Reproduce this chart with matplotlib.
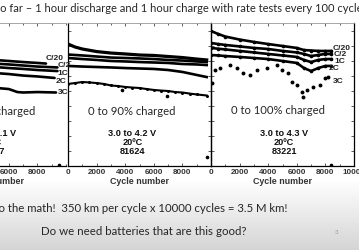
import numpy as np
import matplotlib
matplotlib.use('Agg')
import matplotlib.pyplot as plt
from matplotlib.ticker import MultipleLocator

# capacity in arbitrary units (one tick = 1 unit)
rates = ['C/20', 'C/2', '1C', '2C', '3C']

# panel 1 (cut off at the left of the slide), 3.0 to 4.1 V
p1_cyc = {
    'C/20': [5000, 6000, 7000, 8000, 8600],
    'C/2': [5000, 6000, 7000, 8000, 9400],
    '1C': [5000, 6000, 7000, 8000, 9400],
    '2C': [5000, 6000, 7000, 8000, 9200],
    '3C': [5000, 5400, 6000, 6600, 7000, 8000, 9300],
}
p1_cap = {
    'C/20': [7.07, 7.00, 6.93, 6.87, 6.83],
    'C/2': [6.83, 6.77, 6.70, 6.63, 6.57],
    '1C': [6.60, 6.53, 6.47, 6.40, 6.33],
    '2C': [6.20, 6.13, 6.03, 5.97, 5.87],
    '3C': [5.22, 5.18, 5.13, 4.93, 4.90, 4.93, 4.90],
}
p1_out = ([9510], [0.07])

# panel 2, 3.0 to 4.2 V
p2_cyc_std = [0, 1000, 2000, 3000, 4000, 5000, 6000, 7000, 8000, 9000, 9700]
p2_cap = {
    'C/20': [8.13, 7.80, 7.63, 7.53, 7.47, 7.40, 7.37, 7.30, 7.23, 7.13, 7.07],
    'C/2': [7.43, 7.37, 7.30, 7.23, 7.20, 7.17, 7.13, 7.07, 7.03, 6.97, 6.93],
    '1C': [7.20, 7.13, 7.07, 7.00, 6.97, 6.93, 6.90, 6.87, 6.80, 6.77, 6.73],
    '2C': [6.67, 6.63, 6.60, 6.57, 6.53, 6.50, 6.47, 6.40, 6.27, 6.07, 5.93],
}
p2_c20_start = ([0, 500, 1000], [8.13, 7.93, 7.80])
p2_3c_cyc = [0, 500, 1000, 1500, 2000, 2500, 3000, 3500, 4000, 4500, 5000,
             5500, 6000, 6500, 7000, 7500, 8000, 8500, 9000, 9700]
p2_3c_cap = [5.47, 5.53, 5.60, 5.57, 5.53, 5.47, 5.37, 5.33, 5.27, 5.23, 5.20,
             5.13, 5.07, 5.03, 5.00, 4.93, 4.90, 4.83, 4.77, 4.70]
p2_out = ([3750, 6900, 9750], [5.07, 4.67, 0.60])

# panel 3, 3.0 to 4.3 V
p3_cyc = [0, 500, 1000, 2000, 3000, 4000, 5000, 6000, 6500, 7000, 7500, 8000, 8400]
p3_cap = {
    'C/20': [9.00, 8.80, 8.63, 8.43, 8.27, 8.13, 8.00, 7.87, 7.73, 7.70, 7.67, 7.67, 7.67],
    'C/2': [8.20, 8.13, 8.07, 7.97, 7.87, 7.80, 7.67, 7.57, 7.47, 7.33, 7.40, 7.47, 7.47],
    '1C': [7.87, 7.82, 7.77, 7.67, 7.57, 7.47, 7.37, 7.27, 7.07, 6.93, 7.07, 7.13, 7.13],
    '2C': [7.40, 7.37, 7.33, 7.27, 7.20, 7.13, 7.00, 6.87, 6.53, 6.33, 6.53, 6.67, 6.67],
}
p3_3c_cyc = [50, 280, 630, 1330, 1800, 2240, 2730, 3200, 3900, 4600, 4940,
             5400, 5640, 6000, 6340, 6450, 6690, 7150, 7620, 7970, 8200]
p3_3c_cap = [5.51, 6.40, 6.53, 6.73, 6.51, 6.18, 6.07, 6.40, 6.51, 6.73, 6.40,
             6.18, 5.62, 5.40, 4.95, 4.62, 5.07, 5.29, 5.40, 5.85, 5.95]
p3_out = ([8390], [0.07])

charged = ['0 to 80% charged', '0 to 90% charged', '0 to 100% charged']
volts = ['3.0 to 4.1 V', '3.0 to 4.2 V', '3.0 to 4.3 V']
temps = ['20\u00baC', '20\u00baC', '20\u00baC']
cells = ['81607', '81624', '83221']

title = 'So far \u2013 1 hour discharge and 1 hour charge with rate tests every 100 cycles'
line1 = 'Do the math!  350 km per cycle x 10000 cycles = 3.5 M km!'
line2 = 'Do we need batteries that are this good?'

W, H = 359, 250
fig = plt.figure(figsize=(W / 100, H / 100), dpi=100)
renderer = fig.canvas.get_renderer()
soft = 'Lato'
bold = 'Liberation Sans'


def px(x, y):
    return x / W, 1 - y / H


def width_of(s, size, **kw):
    t = fig.text(0, 0, s, fontsize=size, **kw)
    w = t.get_window_extent(renderer).width
    t.remove()
    return w


def fit(s, target, **kw):
    return 10 * target / width_of(s, 10, **kw)


# slide background with grey band at the bottom
bg = fig.add_axes([0, 0, 1, 1], zorder=-10)
grad = np.ones((H, 1))
yy = np.arange(H)
grad[:, 0] = np.clip((yy - 178) / 72, 0, 1)
bg.imshow(1 - 0.17 * grad, cmap='gray', vmin=0, vmax=1, aspect='auto',
          extent=[0, 1, 0, 1])
bg.axis('off')


def make_axes(left):
    ax = fig.add_axes([left / W, (H - 166) / H, 143 / W, 143 / H])
    ax.patch.set_alpha(0)
    ax.set_xlim(0, 10000)
    ax.set_ylim(0, 143 / 15)
    ax.xaxis.set_major_locator(MultipleLocator(2000))
    ax.xaxis.set_minor_locator(MultipleLocator(1000))
    ax.yaxis.set_major_locator(MultipleLocator(1))
    ax.tick_params(which='both', direction='in', top=True, right=True,
                   width=0.6, labelleft=False, color='#444444')
    ax.tick_params(which='major', length=2.5, labelsize=5.8, pad=2.0,
                   labelcolor='#333333')
    ax.tick_params(which='minor', length=1.5)
    for side in ['left', 'right', 'bottom']:
        ax.spines[side].set_linewidth(0.9)
    ax.spines['top'].set_color('#999999')
    ax.spines['top'].set_linewidth(0.6)
    ax.set_xlabel('Cycle number', fontsize=6.4, fontweight='bold',
                  family=bold, color='#333333', labelpad=1.0)
    return ax


ax1 = make_axes(-77)
ax2 = make_axes(68)
ax3 = make_axes(211)
ax1.spines['right'].set_visible(False)
ax1.tick_params(right=False)
ax1.set_xticks([0, 2000, 4000, 6000, 8000])
ax2.set_xticks([0, 2000, 4000, 6000, 8000])
for ax in (ax1, ax2, ax3):
    for lab in ax.get_xticklabels():
        lab.set_fontweight('bold')
        lab.set_family(bold)

lw = 1.9
for r in rates:
    ax1.plot(p1_cyc[r], p1_cap[r], color='black', lw=lw, solid_capstyle='round')
ax1.plot(*p1_out, 'o', color='black', ms=1.6)

for r in ['C/2', '1C', '2C']:
    ax2.plot(p2_cyc_std, p2_cap[r], color='black', lw=lw)
c20_x = p2_c20_start[0] + p2_cyc_std[2:]
c20_y = p2_c20_start[1] + p2_cap['C/20'][2:]
ax2.plot(c20_x, c20_y, color='black', lw=lw + 0.4)
ax2.plot(p2_3c_cyc, p2_3c_cap, color='black', lw=1.5, marker='o', ms=1.2)
ax2.plot(*p2_out, 'o', color='black', ms=1.6)

for r in ['C/20', 'C/2', '1C', '2C']:
    ax3.plot(p3_cyc, p3_cap[r], color='black', lw=lw, marker='o', ms=1.6)
ax3.plot(p3_3c_cyc, p3_3c_cap, 'o', color='black', ms=1.8)
ax3.plot(*p3_out, 'o', color='black', ms=1.6)

# rate labels next to the curves
lab_kw = dict(fontsize=6.0, fontweight='bold', family=bold, ha='center',
              va='center', color='#222222')
for r, (x, y) in zip(rates, [(55, 58), (64.5, 65.7), (63, 73.3), (61, 81.7), (63, 92.7)]):
    fig.text(*px(x, y), r, **lab_kw)
for r, (x, y) in zip(rates, [(342, 48.3), (340, 55), (340, 61.7), (334, 68.3), (338, 81.7)]):
    fig.text(*px(x, y), r, **lab_kw)

# panel annotations
cs = fit('0 to 90% charged', 87, family=soft)
fig.text(*px(35, 111.5), charged[0], fontsize=cs, family=soft, ha='right',
         va='center', color='#262626')
fig.text(*px(132, 111.5), charged[1], fontsize=cs, family=soft, ha='center',
         va='center', color='#262626')
fig.text(*px(278, 111), charged[2], fontsize=cs, family=soft, ha='center',
         va='center', color='#262626')

bs = fit('3.0 to 4.2 V', 48, family=bold, weight='bold')
for cx, v, t, c in zip([-8, 132.5, 284], volts, temps, cells):
    for yv, s in zip([133, 142.3, 151], [v, t, c]):
        fig.text(*px(cx, yv), s, fontsize=bs, family=bold, fontweight='bold',
                 ha='center', va='center', color='#111111')

# slide title, cut off on both sides
ts = fit(title[1:-1], 360, family=soft)
s_w = width_of('S', ts, family=soft)
fig.text(*px(-s_w, 8.5), title, fontsize=ts, family=soft, ha='left',
         va='center', color='#262626')

# bottom lines
bs1 = fit(line1[1:], 288, family=soft)
fig.text(*px(288, 209), line1, fontsize=bs1, family=soft, ha='right',
         va='center', color='#262626')
bs2 = fit(line2, 207, family=soft)
fig.text(*px(143.3, 231.7), line2, fontsize=bs2, family=soft, ha='center',
         va='center', color='#262626')
fig.text(*px(337, 232), '3', fontsize=4.5, family=soft, ha='center',
         va='center', color='#9a9a9a')

fig.savefig('out.png', dpi=100)
